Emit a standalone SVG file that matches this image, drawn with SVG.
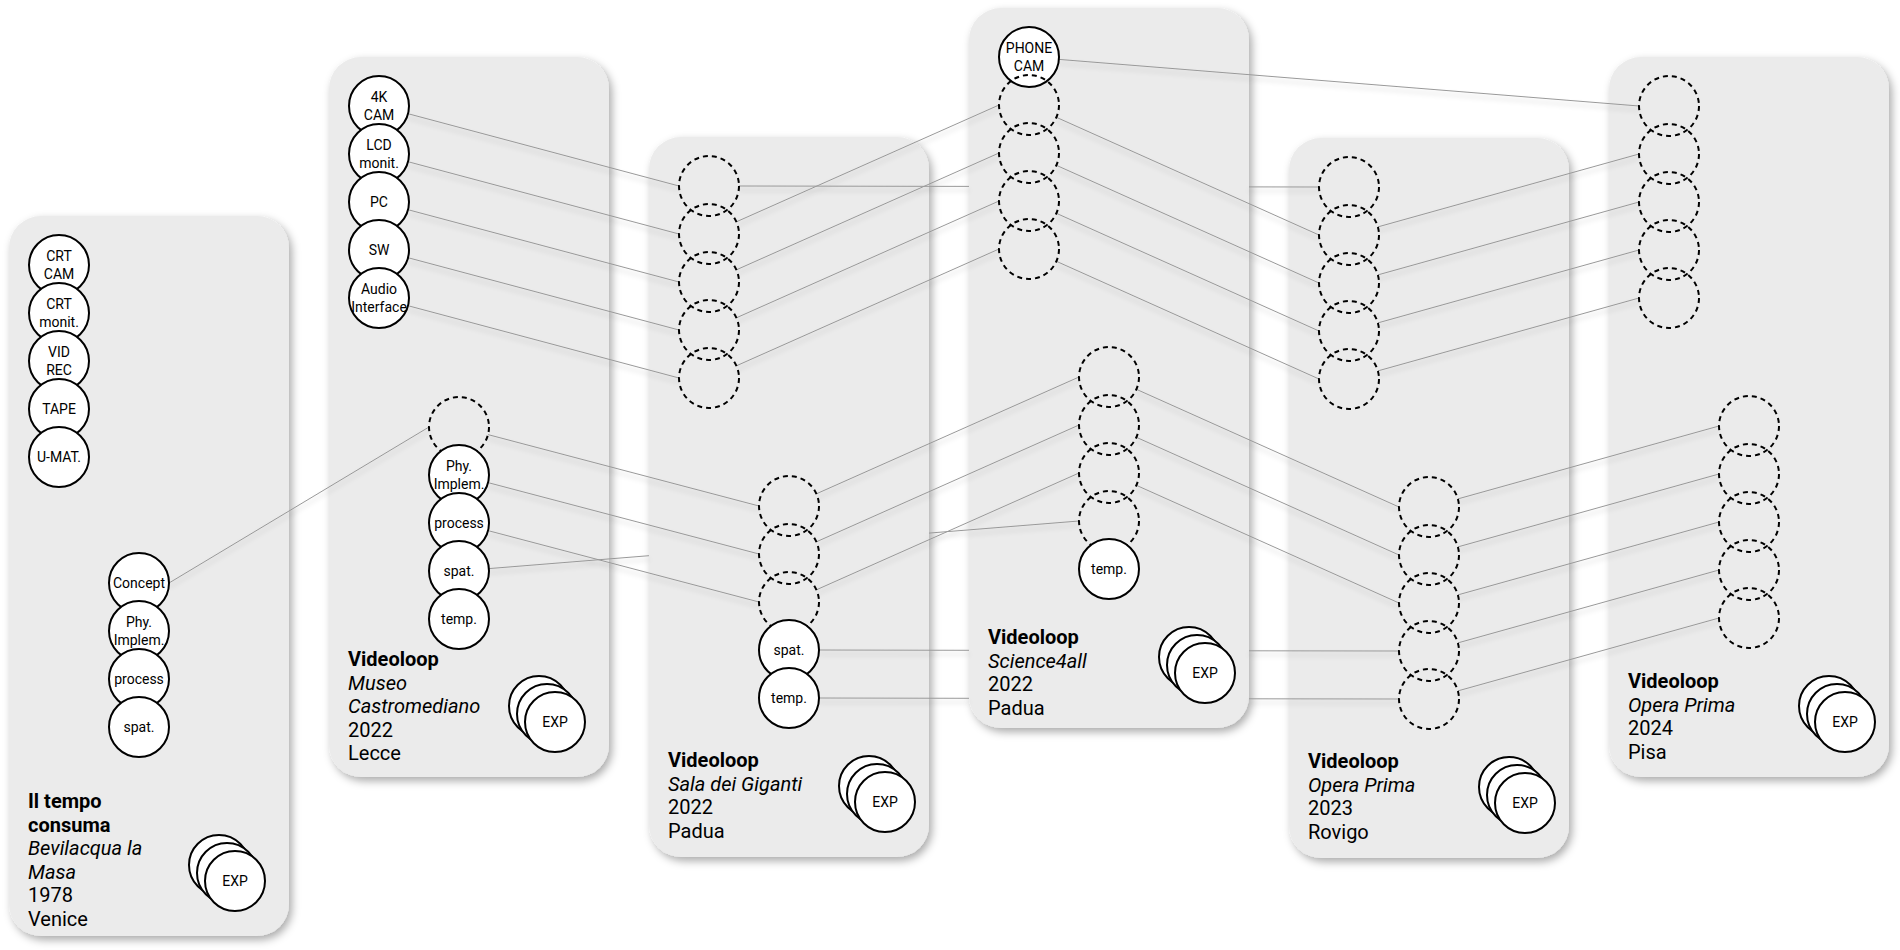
<svg xmlns="http://www.w3.org/2000/svg" width="1900" height="950" viewBox="0 0 1900 950">
<defs>
<filter id="ps" filterUnits="userSpaceOnUse" x="-20" y="-20" width="1960" height="1000">
<feDropShadow dx="3" dy="4" stdDeviation="4" flood-color="#000" flood-opacity="0.33"/>
</filter>
<filter id="ls" filterUnits="userSpaceOnUse" x="0" y="0" width="1900" height="950">
<feDropShadow dx="0" dy="4" stdDeviation="2.5" flood-color="#000" flood-opacity="0.22"/>
</filter>
<style>
.panel{fill:#ebebeb;filter:url(#ps)}
.n{fill:#fff;stroke:#000;stroke-width:2}
.d{fill:none;stroke:#000;stroke-width:2;stroke-dasharray:5 4}
.l{font-family:Roboto,"Liberation Sans",sans-serif;font-size:14px;text-anchor:middle;fill:#000}
.t{font-family:Roboto,"Liberation Sans",sans-serif;font-size:20px;fill:#000}
.b{font-weight:bold}
.i{font-style:italic}
.c{fill:none;stroke:#999;stroke-width:1}
</style>
</defs>
<rect width="1900" height="950" fill="#fff"/>

<g id="panel-1"><rect class="panel" x="9" y="216" width="280" height="720" rx="32"/>
<text class="t b" x="28" y="808">Il tempo</text><text class="t b" x="28" y="831.5">consuma</text><text class="t i" x="28" y="855">Bevilacqua la</text><text class="t i" x="28" y="878.5">Masa</text><text class="t" x="28" y="902">1978</text><text class="t" x="28" y="925.5">Venice</text></g>
<g id="panel-2"><rect class="panel" x="329" y="57" width="280" height="720" rx="32"/>
<text class="t b" x="348" y="666">Videoloop</text><text class="t i" x="348" y="689.5">Museo</text><text class="t i" x="348" y="713">Castromediano</text><text class="t" x="348" y="736.5">2022</text><text class="t" x="348" y="760">Lecce</text></g>
<g id="panel-3"><rect class="panel" x="649" y="137" width="280" height="720" rx="32"/>
<text class="t b" x="668" y="767">Videoloop</text><text class="t i" x="668" y="790.5">Sala dei Giganti</text><text class="t" x="668" y="814">2022</text><text class="t" x="668" y="837.5">Padua</text></g>
<g id="panel-4"><rect class="panel" x="969" y="8" width="280" height="720" rx="32"/>
<text class="t b" x="988" y="644">Videoloop</text><text class="t i" x="988" y="667.5">Science4all</text><text class="t" x="988" y="691">2022</text><text class="t" x="988" y="714.5">Padua</text></g>
<g id="panel-5"><rect class="panel" x="1289" y="138" width="280" height="720" rx="32"/>
<text class="t b" x="1308" y="768">Videoloop</text><text class="t i" x="1308" y="791.5">Opera Prima</text><text class="t" x="1308" y="815">2023</text><text class="t" x="1308" y="838.5">Rovigo</text></g>
<g id="panel-6"><rect class="panel" x="1609" y="57" width="280" height="720" rx="32"/>
<text class="t b" x="1628" y="688">Videoloop</text><text class="t i" x="1628" y="711.5">Opera Prima</text><text class="t" x="1628" y="735">2024</text><text class="t" x="1628" y="758.5">Pisa</text></g>

<g id="connectors" filter="url(#ls)">
<path class="c" d="M169 583 L429 427"/>
<path class="c" d="M408 113.7 L679 186"/>
<path class="c" d="M408 161.7 L679 234"/>
<path class="c" d="M408 209.7 L679 282"/>
<path class="c" d="M408 257.7 L679 330"/>
<path class="c" d="M408 305.7 L679 378"/>
<path class="c" d="M488 434.6 L759 506"/>
<path class="c" d="M488 482.6 L759 554"/>
<path class="c" d="M488 530.6 L759 602"/>
<path class="c" d="M488.9 568.6 L649 555.7 M929 533.1 L1079 521"/>
<path class="c" d="M739 186 L969 186.4 M1249 186.9 L1319 187"/>
<path class="c" d="M736.4 221.8 L999 105"/>
<path class="c" d="M736.4 269.8 L999 153"/>
<path class="c" d="M736.4 317.8 L999 201"/>
<path class="c" d="M736.4 365.8 L999 249"/>
<path class="c" d="M816.4 493.8 L1079 377"/>
<path class="c" d="M816.4 541.8 L1079 425"/>
<path class="c" d="M816.4 589.8 L1079 473"/>
<path class="c" d="M819 650 L969 650.3 M1249 650.8 L1399 651"/>
<path class="c" d="M819 698 L969 698.3 M1249 698.8 L1399 699"/>
<path class="c" d="M1058.9 59.4 L1639 106"/>
<path class="c" d="M1056.4 117.3 L1319 235"/>
<path class="c" d="M1056.4 165.3 L1319 283"/>
<path class="c" d="M1056.4 213.3 L1319 331"/>
<path class="c" d="M1056.4 261.3 L1319 379"/>
<path class="c" d="M1136.4 389.3 L1399 507"/>
<path class="c" d="M1136.4 437.3 L1399 555"/>
<path class="c" d="M1136.4 485.3 L1399 603"/>
<path class="c" d="M1377.9 226.9 L1639 154"/>
<path class="c" d="M1377.9 274.9 L1639 202"/>
<path class="c" d="M1377.9 322.9 L1639 250"/>
<path class="c" d="M1377.9 370.9 L1639 298"/>
<path class="c" d="M1457.9 498.9 L1719 426"/>
<path class="c" d="M1457.9 546.9 L1719 474"/>
<path class="c" d="M1457.9 594.9 L1719 522"/>
<path class="c" d="M1457.9 642.9 L1719 570"/>
<path class="c" d="M1457.9 690.9 L1719 618"/>
</g>

<!-- Panel 1 nodes -->
<g id="p1-crt-cam"><circle class="n" cx="59" cy="265" r="30"/><text class="l" x="59" y="260.5">CRT</text><text class="l" x="59" y="278.5">CAM</text></g>
<g id="p1-crt-monit"><circle class="n" cx="59" cy="313" r="30"/><text class="l" x="59" y="308.5">CRT</text><text class="l" x="59" y="326.5">monit.</text></g>
<g id="p1-vid-rec"><circle class="n" cx="59" cy="361" r="30"/><text class="l" x="59" y="356.5">VID</text><text class="l" x="59" y="374.5">REC</text></g>
<g id="p1-tape"><circle class="n" cx="59" cy="409" r="30"/><text class="l" x="59" y="414">TAPE</text></g>
<g id="p1-umat"><circle class="n" cx="59" cy="457" r="30"/><text class="l" x="59" y="462">U-MAT.</text></g>
<g id="p1-concept"><circle class="n" cx="139" cy="583" r="30"/><text class="l" x="139" y="588">Concept</text></g>
<g id="p1-phy"><circle class="n" cx="139" cy="631" r="30"/><text class="l" x="139" y="626.5">Phy.</text><text class="l" x="139" y="644.5">Implem.</text></g>
<g id="p1-process"><circle class="n" cx="139" cy="679" r="30"/><text class="l" x="139" y="684">process</text></g>
<g id="p1-spat"><circle class="n" cx="139" cy="727" r="30"/><text class="l" x="139" y="732">spat.</text></g>
<g id="p1-exp"><circle class="n" cx="219" cy="865" r="30"/><circle class="n" cx="227" cy="873" r="30"/><circle class="n" cx="235" cy="881" r="30"/><text class="l" x="235" y="886">EXP</text></g>

<!-- Panel 2 nodes -->
<g id="p2-4k-cam"><circle class="n" cx="379" cy="106" r="30"/><text class="l" x="379" y="101.5">4K</text><text class="l" x="379" y="119.5">CAM</text></g>
<g id="p2-lcd"><circle class="n" cx="379" cy="154" r="30"/><text class="l" x="379" y="149.5">LCD</text><text class="l" x="379" y="167.5">monit.</text></g>
<g id="p2-pc"><circle class="n" cx="379" cy="202" r="30"/><text class="l" x="379" y="207">PC</text></g>
<g id="p2-sw"><circle class="n" cx="379" cy="250" r="30"/><text class="l" x="379" y="255">SW</text></g>
<g id="p2-audio"><circle class="n" cx="379" cy="298" r="30"/><text class="l" x="379" y="293.5">Audio</text><text class="l" x="379" y="311.5">Interface</text></g>
<g id="p2-d1"><circle class="d" cx="459" cy="427" r="30"/></g>
<g id="p2-phy"><circle class="n" cx="459" cy="475" r="30"/><text class="l" x="459" y="470.5">Phy.</text><text class="l" x="459" y="488.5">Implem.</text></g>
<g id="p2-process"><circle class="n" cx="459" cy="523" r="30"/><text class="l" x="459" y="528">process</text></g>
<g id="p2-spat"><circle class="n" cx="459" cy="571" r="30"/><text class="l" x="459" y="576">spat.</text></g>
<g id="p2-temp"><circle class="n" cx="459" cy="619" r="30"/><text class="l" x="459" y="624">temp.</text></g>
<g id="p2-exp"><circle class="n" cx="539" cy="706" r="30"/><circle class="n" cx="547" cy="714" r="30"/><circle class="n" cx="555" cy="722" r="30"/><text class="l" x="555" y="727">EXP</text></g>

<!-- Panel 3 nodes -->
<g id="p3-t1"><circle class="d" cx="709" cy="186" r="30"/></g>
<g id="p3-t2"><circle class="d" cx="709" cy="234" r="30"/></g>
<g id="p3-t3"><circle class="d" cx="709" cy="282" r="30"/></g>
<g id="p3-t4"><circle class="d" cx="709" cy="330" r="30"/></g>
<g id="p3-t5"><circle class="d" cx="709" cy="378" r="30"/></g>
<g id="p3-b1"><circle class="d" cx="789" cy="506" r="30"/></g>
<g id="p3-b2"><circle class="d" cx="789" cy="554" r="30"/></g>
<g id="p3-b3"><circle class="d" cx="789" cy="602" r="30"/></g>
<g id="p3-spat"><circle class="n" cx="789" cy="650" r="30"/><text class="l" x="789" y="655">spat.</text></g>
<g id="p3-temp"><circle class="n" cx="789" cy="698" r="30"/><text class="l" x="789" y="703">temp.</text></g>
<g id="p3-exp"><circle class="n" cx="869" cy="786" r="30"/><circle class="n" cx="877" cy="794" r="30"/><circle class="n" cx="885" cy="802" r="30"/><text class="l" x="885" y="807">EXP</text></g>

<!-- Panel 4 nodes -->
<g id="p4-phone-cam"><circle class="n" cx="1029" cy="57" r="30"/><text class="l" x="1029" y="52.5">PHONE</text><text class="l" x="1029" y="70.5">CAM</text></g>
<g id="p4-t2"><circle class="d" cx="1029" cy="105" r="30"/></g>
<g id="p4-t3"><circle class="d" cx="1029" cy="153" r="30"/></g>
<g id="p4-t4"><circle class="d" cx="1029" cy="201" r="30"/></g>
<g id="p4-t5"><circle class="d" cx="1029" cy="249" r="30"/></g>
<g id="p4-b1"><circle class="d" cx="1109" cy="377" r="30"/></g>
<g id="p4-b2"><circle class="d" cx="1109" cy="425" r="30"/></g>
<g id="p4-b3"><circle class="d" cx="1109" cy="473" r="30"/></g>
<g id="p4-b4"><circle class="d" cx="1109" cy="521" r="30"/></g>
<g id="p4-temp"><circle class="n" cx="1109" cy="569" r="30"/><text class="l" x="1109" y="574">temp.</text></g>
<g id="p4-exp"><circle class="n" cx="1189" cy="657" r="30"/><circle class="n" cx="1197" cy="665" r="30"/><circle class="n" cx="1205" cy="673" r="30"/><text class="l" x="1205" y="678">EXP</text></g>

<!-- Panel 5 nodes -->
<g id="p5-t1"><circle class="d" cx="1349" cy="187" r="30"/></g>
<g id="p5-t2"><circle class="d" cx="1349" cy="235" r="30"/></g>
<g id="p5-t3"><circle class="d" cx="1349" cy="283" r="30"/></g>
<g id="p5-t4"><circle class="d" cx="1349" cy="331" r="30"/></g>
<g id="p5-t5"><circle class="d" cx="1349" cy="379" r="30"/></g>
<g id="p5-b1"><circle class="d" cx="1429" cy="507" r="30"/></g>
<g id="p5-b2"><circle class="d" cx="1429" cy="555" r="30"/></g>
<g id="p5-b3"><circle class="d" cx="1429" cy="603" r="30"/></g>
<g id="p5-b4"><circle class="d" cx="1429" cy="651" r="30"/></g>
<g id="p5-b5"><circle class="d" cx="1429" cy="699" r="30"/></g>
<g id="p5-exp"><circle class="n" cx="1509" cy="787" r="30"/><circle class="n" cx="1517" cy="795" r="30"/><circle class="n" cx="1525" cy="803" r="30"/><text class="l" x="1525" y="808">EXP</text></g>

<!-- Panel 6 nodes -->
<g id="p6-t1"><circle class="d" cx="1669" cy="106" r="30"/></g>
<g id="p6-t2"><circle class="d" cx="1669" cy="154" r="30"/></g>
<g id="p6-t3"><circle class="d" cx="1669" cy="202" r="30"/></g>
<g id="p6-t4"><circle class="d" cx="1669" cy="250" r="30"/></g>
<g id="p6-t5"><circle class="d" cx="1669" cy="298" r="30"/></g>
<g id="p6-b1"><circle class="d" cx="1749" cy="426" r="30"/></g>
<g id="p6-b2"><circle class="d" cx="1749" cy="474" r="30"/></g>
<g id="p6-b3"><circle class="d" cx="1749" cy="522" r="30"/></g>
<g id="p6-b4"><circle class="d" cx="1749" cy="570" r="30"/></g>
<g id="p6-b5"><circle class="d" cx="1749" cy="618" r="30"/></g>
<g id="p6-exp"><circle class="n" cx="1829" cy="706" r="30"/><circle class="n" cx="1837" cy="714" r="30"/><circle class="n" cx="1845" cy="722" r="30"/><text class="l" x="1845" y="727">EXP</text></g>
</svg>
